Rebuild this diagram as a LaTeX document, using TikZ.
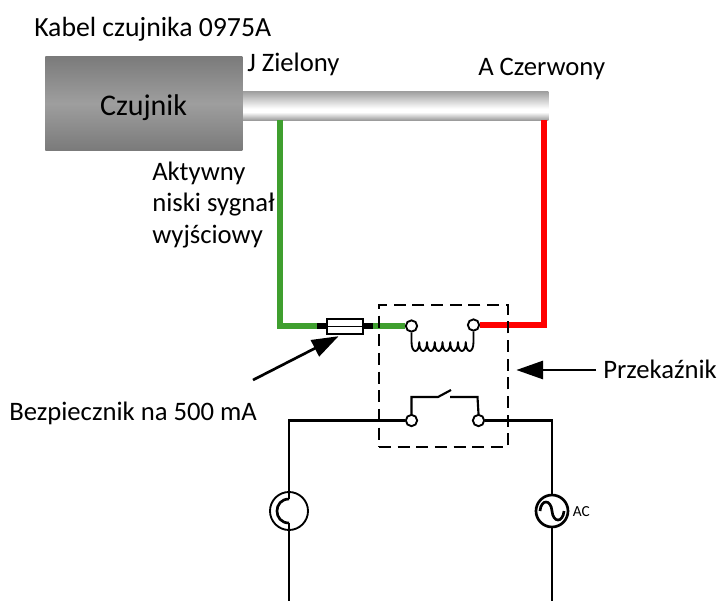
\documentclass[tikz,border=0pt]{standalone}
\usepackage{fontspec}
\setmainfont{Carlito}
\usetikzlibrary{arrows.meta}
\definecolor{wiregreen}{HTML}{3F9F2F}
\definecolor{wirered}{HTML}{FF0000}
\pgfdeclareverticalshading{cableshade}{100bp}{color(0bp)=(black!40); color(25bp)=(black!40); color(39bp)=(white); color(45bp)=(white); color(75bp)=(black!38); color(100bp)=(black!38)}
\tikzset{
  lab/.style={inner sep=0pt,anchor=west,font=\fontsize{20}{24}\selectfont,align=left},
  wire/.style={line width=2.2pt,black},
  gwire/.style={line width=4.1pt,wiregreen},
  rwire/.style={line width=4.1pt,wirered},
  term/.style={circle,draw=black,line width=1.4pt,fill=white,minimum size=8.5pt,inner sep=0pt},
  bigarrow/.style={line width=2pt,-{Triangle[length=20pt,width=13.5pt]},shorten >=-0.5pt},
}
\begin{document}
\begin{tikzpicture}[x=0.75pt,y=-0.75pt]
\useasboundingbox (0,0) rectangle (719,601);
% cable
\node[minimum width=229.5pt,minimum height=21.75pt,inner sep=0pt,anchor=north west,shading=cableshade] (cable) at (242,91) {};
% sensor
\node[minimum width=147.75pt,minimum height=70.5pt,inner sep=0pt,anchor=north west,top color=black!52,bottom color=black!52,middle color=black!38] (sensor) at (45,56) {};
\node[inner sep=0pt,font=\fontsize{22.5}{26}\selectfont] (sensorlab) at (143.5,107.5) {Czujnik};
% coordinates
\coordinate (gtop) at (280,120);
\coordinate (gcorner) at (280,326);
\coordinate (rtop) at (544,120);
\coordinate (rcorner) at (544,325);
\node[term] (c1) at (411.5,326) {};
\node[term] (c2) at (473.5,325) {};
\node[term] (s1) at (411.5,420.5) {};
\node[term] (s2) at (478.5,420.5) {};
\coordinate (fl) at (317,326);
\coordinate (fr) at (373,326);
% coloured wires
\draw[gwire,line join=miter] (gtop) -- (gcorner) -- (fl);
\draw[gwire] (fr) -- (c1.west);
\draw[rwire,line join=miter] (rtop) -- (rcorner) -- (c2.east);
% fuse
\draw[line width=4.5pt,black] (fl) -- (fr);
\node[draw=black,line width=1.3pt,fill=white,minimum width=27pt,minimum height=11pt,inner sep=0pt] (fuse) at (345,326.5) {};
\draw[line width=1.3pt] (fuse.west) -- (fuse.east);
% dashed box
\node[draw=black,line width=1.4pt,dash pattern=on 9pt off 5pt,minimum width=96.75pt,minimum height=106.5pt,inner sep=0pt,anchor=north west] (relay) at (378,304) {};
% coil
\draw[line width=1.4pt,line join=round] (c1.south) -- (411.5,342)
  \foreach \k in {1,...,8} { .. controls +(0,12) and +(0,12) .. ++(7.75,0) }
  -- (c2.south);
% switch
\draw[line width=1.6pt] (s1.north) -- (411.5,397) -- (438,397) -- (451,390);
\draw[line width=1.6pt] (450,397) -- (477.5,397) -- (s2.north);
% mains wires
\coordinate (lb) at (289,601);
\coordinate (rb) at (552,601);
\node[circle,draw=black,line width=1.4pt,minimum size=28.5pt,inner sep=0pt] (srcl) at (289,511) {};
\node[circle,draw=black,line width=2pt,minimum size=24pt,inner sep=0pt] (srcr) at (552,511) {};
\draw[wire,line join=miter] (s1.west) -- (289,420.5) -- (289,499);
\draw[wire] (289,523) -- (lb);
\draw[wire,line join=miter] (s2.east) -- (552,420.5) -- (srcr.north);
\draw[wire] (srcr.south) -- (rb);
% symbols
\draw[line width=2pt] (289,499) .. controls (273,499) and (273,523) .. (289,523);
\draw[line width=2pt] (540,511) .. controls (541,499) and (551,499) .. (552,511) .. controls (553,523) and (563,523) .. (564,511);
\node[inner sep=0pt,anchor=west,font=\fontsize{11.5}{13}\selectfont] (aclab) at (572.5,512) {AC};
% arrows
\coordinate (a1s) at (253,380);
\coordinate (a1e) at (338,336.5);
\draw[bigarrow] (a1s) -- (a1e);
\coordinate (a2s) at (596,370);
\coordinate (a2e) at (517,370);
\draw[bigarrow] (a2s) -- (a2e);
% labels
\node[lab,font=\fontsize{20.8}{24}\selectfont] (t1) at (34,29) {Kabel czujnika 0975A};
\node[lab] (t2) at (247,64) {J Zielony};
\node[lab] (t3) at (478,68.5) {A Czerwony};
\node[lab,anchor=north west,font=\fontsize{20}{23.6}\selectfont] (t4) at (152,161.5) {Aktywny\\niski sygnał\\wyjściowy};
\node[lab] (t5) at (9,413) {Bezpiecznik na 500 mA};
\node[lab] (t6) at (603,369) {Przekaźnik};
\end{tikzpicture}
\end{document}
